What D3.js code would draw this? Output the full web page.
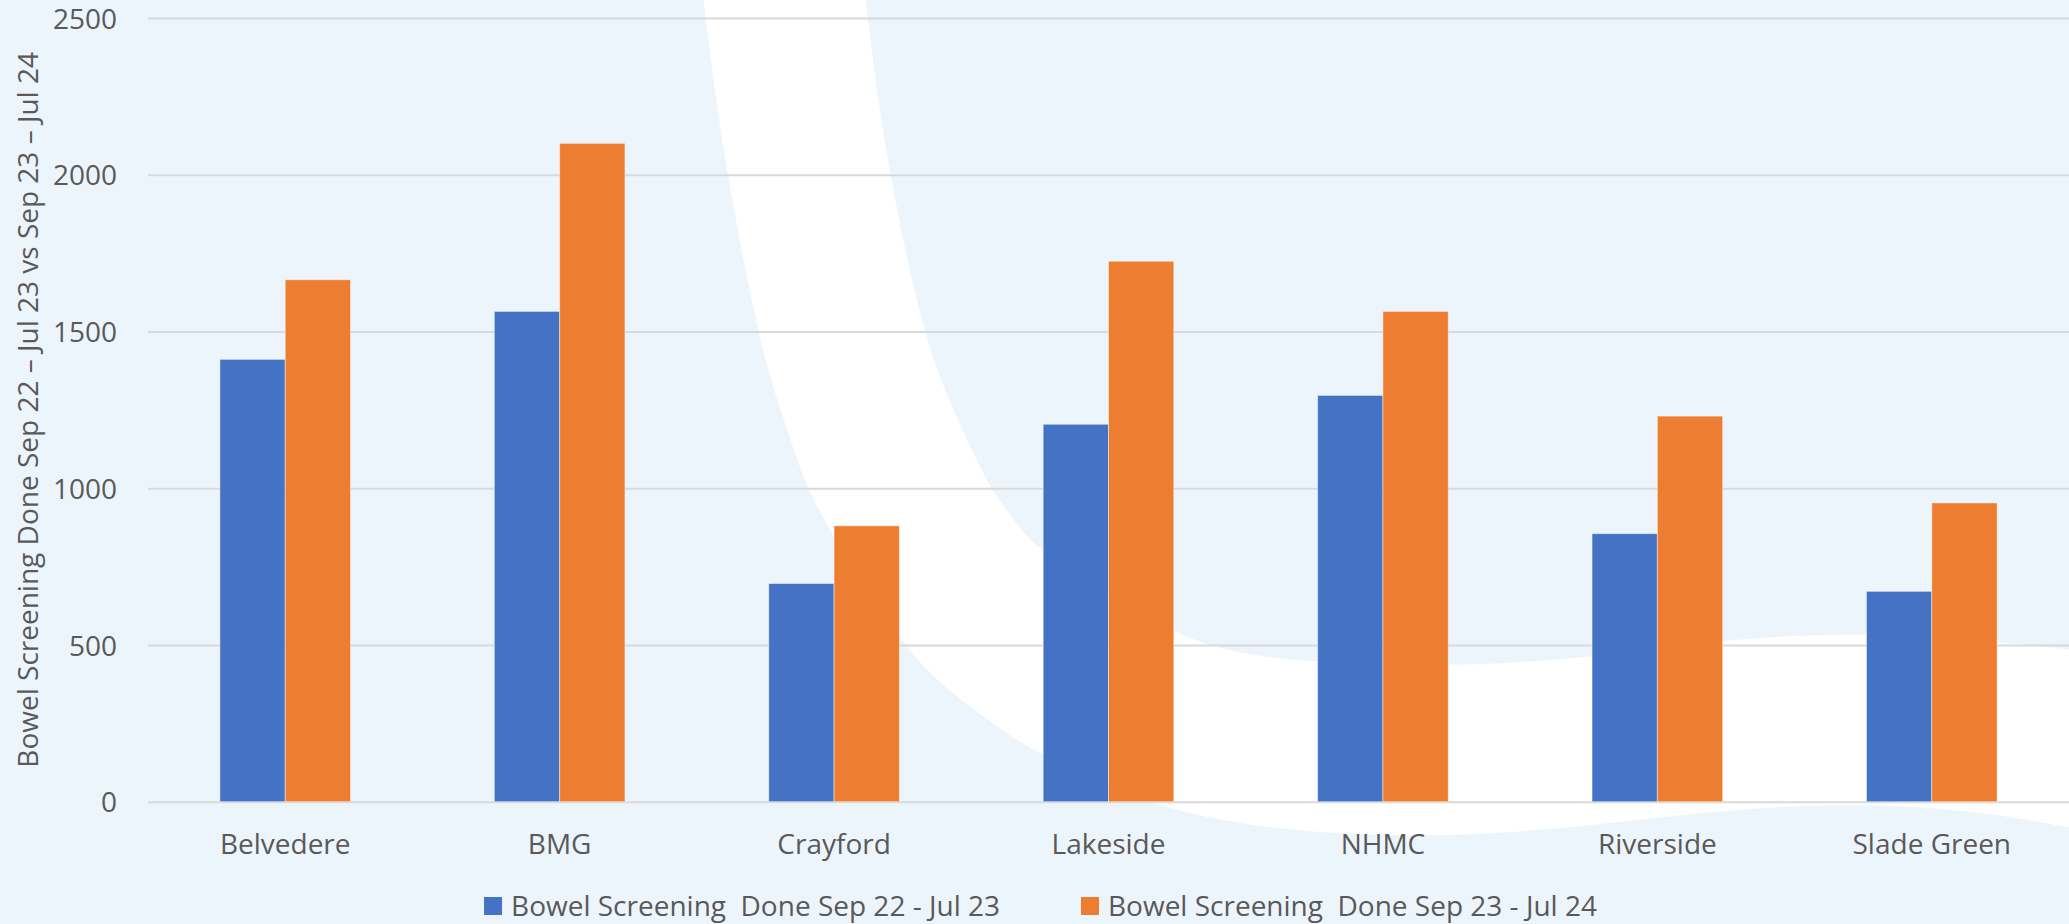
<!DOCTYPE html>
<html>
<head>
<meta charset="utf-8">
<script src="https://cdn.jsdelivr.net/npm/d3@7"></script>
<style>
  html, body { margin: 0; padding: 0; background: #EDF5FC; }
  svg { display: block; }
  text { font-family: "Open Sans", sans-serif; fill: #595959; }
</style>
</head>
<body>
<svg id="chart" width="2069" height="924"></svg>
<script>
// Practices (x categories)
const practices = ["Belvedere", "BMG", "Crayford", "Lakeside", "NHMC", "Riverside", "Slade Green"];
// Screenings done per practice, each period
const screened2223 = [1411, 1564, 696, 1204, 1296, 855, 671];
const screened2324 = [1665, 2100, 880, 1724, 1564, 1230, 953];
// Series names and y ticks
const seriesNames = ["Bowel Screening  Done Sep 22 - Jul 23", "Bowel Screening  Done Sep 23 - Jul 24"];
const yTicks = [0, 500, 1000, 1500, 2000, 2500];
const yTitle = "Bowel Screening Done Sep 22 \u2013 Jul 23 vs Sep 23 \u2013 Jul 24";

const W = 2069, H = 924;
const colors = ["#4472C4", "#ED7D31"];
const margin = { left: 148, right: 0, top: 18, bottom: 122.3 };

const svg = d3.select("#chart");

// Background with white swoosh band
svg.append("rect").attr("width", W).attr("height", H).attr("fill", "#EDF5FC");
const outerEdge = [[703,-4],[722,150],[757,332],[777,400],[794,450],[807,488],[833,537],[903,647],[947,690],
  [997,727],[1043,757],[1140,803],[1260,830],[1419,838],[1555,830],[1691,813],[1826,803],[1962,808],[2073,828]];
const innerEdge = [[865,-4],[884,150],[922,332],[950,403],[972,450],[990,488],[1023,533],[1043,553],[1175,638],
  [1260,660],[1446,668],[1600,657],[1736,638],[1854,633],[1962,638],[2073,650]].reverse();
const edge = d3.line().curve(d3.curveBasis);
svg.append("path")
  .attr("d", edge(outerEdge) + "L" + edge(innerEdge).slice(1) + "Z")
  .attr("fill", "#FFFFFF");

// Scales
const x = d3.scaleBand()
  .domain(practices)
  .range([margin.left, W - margin.right])
  .paddingInner(0.524)
  .paddingOuter(0.262);
const xs = d3.scaleBand()
  .domain([0, 1])
  .range([0, x.bandwidth()]);
const y = d3.scaleLinear()
  .domain([0, 2500])
  .range([H - margin.bottom, margin.top]);

// Gridlines + y tick labels
const yAxis = svg.append("g")
  .attr("transform", `translate(${margin.left},0)`)
  .call(d3.axisLeft(y).tickValues(yTicks).tickFormat(d3.format("d"))
    .tickSize(-(W - margin.left - margin.right)).tickPadding(31));
yAxis.select(".domain").remove();
yAxis.selectAll(".tick line").attr("stroke", "#D9D9D9").attr("stroke-width", 2);
yAxis.selectAll(".tick text")
  .attr("dy", "0.36em")
  .style("font-family", "'Open Sans', sans-serif")
  .style("font-size", "28px")
  .attr("fill", "#595959");

// Bars
const rows = practices.map((p, i) => ({ p, vals: [screened2223[i], screened2324[i]] }));
const groups = svg.append("g").selectAll("g")
  .data(rows).join("g")
  .attr("transform", d => `translate(${x(d.p)},0)`);
groups.selectAll("rect")
  .data(d => d.vals.map((v, k) => ({ v, k })))
  .join("rect")
  .attr("x", d => xs(d.k))
  .attr("width", xs.bandwidth())
  .attr("y", d => y(d.v))
  .attr("height", d => y(0) - y(d.v))
  .attr("fill", d => colors[d.k])
  .attr("stroke", "rgba(255,255,255,0.45)")
  .attr("stroke-width", 1);

// Category axis
const xAxis = svg.append("g")
  .attr("transform", `translate(0,${y(0)})`)
  .call(d3.axisBottom(x).tickSize(0).tickPadding(32));
xAxis.select(".domain").remove();
xAxis.selectAll(".tick text")
  .style("font-family", "'Open Sans', sans-serif")
  .style("font-size", "28px")
  .attr("fill", "#595959");

// Y axis title
svg.append("text")
  .attr("transform", `translate(38,${(y(0) + y(2500)) / 2}) rotate(-90)`)
  .attr("text-anchor", "middle")
  .style("font-size", "28px")
  .text(yTitle);

// Legend
const legend = svg.append("g");
const items = legend.selectAll("g").data(seriesNames).join("g");
items.append("rect")
  .attr("width", 18).attr("height", 18)
  .attr("y", 897)
  .attr("fill", (d, i) => colors[i]);
items.append("text")
  .attr("x", 27)
  .attr("y", 915.5)
  .style("font-size", "28px")
  .style("white-space", "pre")
  .text(d => d);
let cx = 0;
items.each(function (d, i) {
  const g = d3.select(this);
  g.attr("transform", `translate(${cx},0)`);
  const tw = g.select("text").node().getComputedTextLength();
  cx += 27 + tw + 81;
});
const totalW = cx - 81;
legend.attr("transform", `translate(${1040.5 - totalW / 2},0)`);
</script>
</body>
</html>
